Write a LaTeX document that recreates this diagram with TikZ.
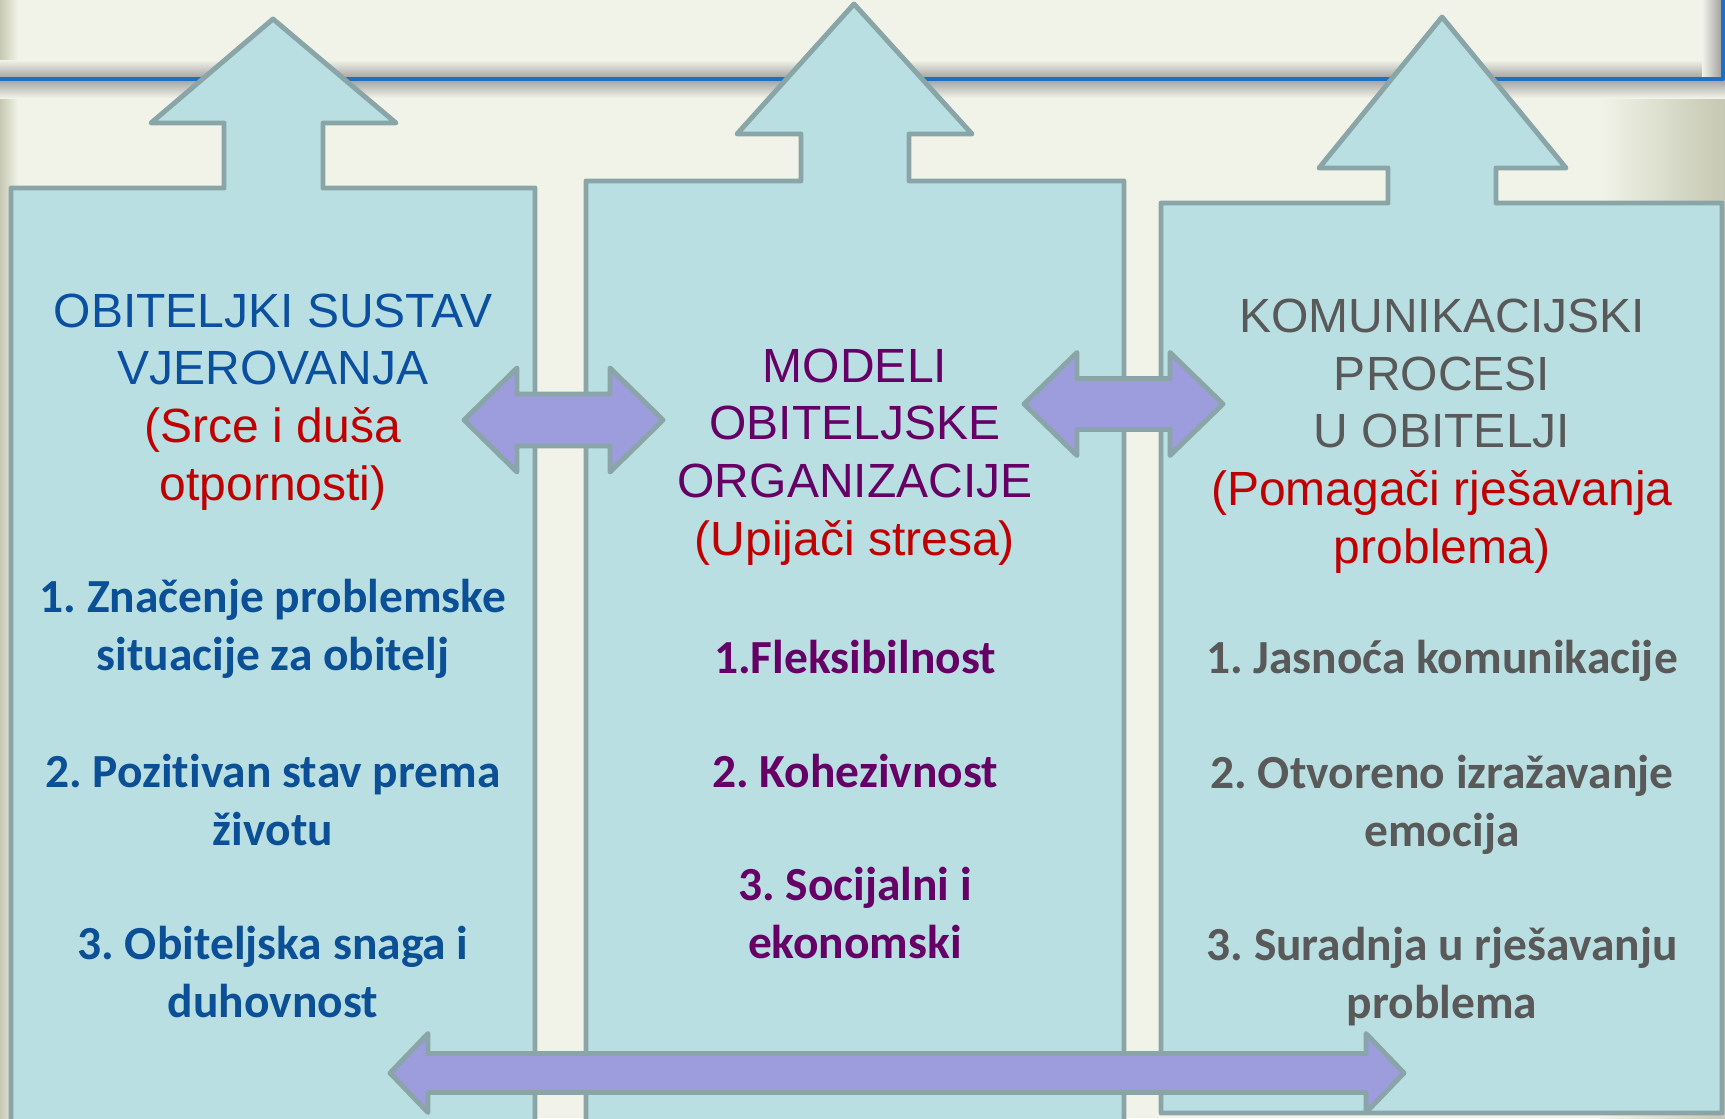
\documentclass[tikz,border=0pt]{standalone}
\usepackage{fontspec}
\setmainfont{Liberation Sans}
\newfontfamily\itemfont[Ligatures=CommonOff]{Carlito}
\usetikzlibrary{positioning}
\frenchspacing
\definecolor{bgcream}{HTML}{F1F3E8}
\definecolor{edgegray}{HTML}{C6C8B3}
\definecolor{colfill}{HTML}{B9DFE2}
\definecolor{colline}{HTML}{89A5A8}
\definecolor{arrfill}{HTML}{9D9CDC}
\definecolor{headblue}{HTML}{0B50A0}
\definecolor{itemblue}{HTML}{0B4F96}
\definecolor{plum}{HTML}{660066}
\definecolor{softred}{HTML}{C00000}
\definecolor{slate}{HTML}{595959}
\definecolor{titleblue}{HTML}{1F70C1}
% double block arrow: left tip, right tip, mid y, shaft half, head half, head length
\newcommand{\dblarrow}[6]{%
  \draw[blockarrow] (#1,#3) -- (#1+#6,#3-#5) -- (#1+#6,#3-#4) -- (#2-#6,#3-#4) -- (#2-#6,#3-#5)
    -- (#2,#3) -- (#2-#6,#3+#5) -- (#2-#6,#3+#4) -- (#1+#6,#3+#4) -- (#1+#6,#3+#5) -- cycle;}

\begin{document}
\begin{tikzpicture}[x=0.01cm, y=-0.01cm, line join=round,
  column/.style={draw=colline, fill=colfill, line width=1.4pt},
  blockarrow/.style={draw=colline, fill=arrfill, line width=1.4pt},
  head/.style={align=center, font=\fontsize{13.65pt}{16.4pt}\selectfont},
  item/.style={align=center, font=\itemfont\bfseries\fontsize{13.5pt}{16.5pt}\selectfont}]
\clip (0,0) rectangle (1725,1118);
\fill[bgcream] (0,0) rectangle (1725,1118);
\shade[left color=edgegray, right color=bgcream] (0,0) rectangle (18,1118);
\shade[left color=bgcream, right color=edgegray] (1600,79) rectangle (1725,1118);
% title band edge
\shade[top color=bgcream, bottom color=gray!75] (0,60) rectangle (1722,79);
\shade[top color=gray!75, bottom color=bgcream] (0,79) rectangle (1725,98);
\shade[left color=bgcream, right color=gray!75] (1702,0) rectangle (1722,79);
\draw[titleblue, line width=0.9pt] (0,79) -- (1723,79) -- (1723,0);
% the three columns with up arrows
\draw[column] (11,1140) -- (11,188) -- (224,188) -- (224,123) -- (151,123) -- (273,19)
  -- (396,123) -- (323,123) -- (323,188) -- (535,188) -- (535,1140);
\draw[column] (586,1140) -- (586,181) -- (801,181) -- (801,134) -- (737,134) -- (854,4)
  -- (972,134) -- (909,134) -- (909,181) -- (1124,181) -- (1124,1140);
\draw[column] (1161,1113) -- (1161,203) -- (1388,203) -- (1388,168) -- (1319,168) -- (1442,17)
  -- (1566,168) -- (1496,168) -- (1496,203) -- (1722,203) -- (1722,1113) -- cycle;
% links between columns
\dblarrow{464}{663}{420}{26}{52}{53}
\dblarrow{1024}{1223}{404}{25.5}{51.5}{53}
\dblarrow{390}{1404}{1073}{19.5}{39.5}{38}
% texts
\node[head, text=headblue] (belief) at (273,402) {OBITELJKI SUSTAV\\VJEROVANJA\\\textcolor{softred}{(Srce i duša}\\\textcolor{softred}{otpornosti)}};
\node[item, text=itemblue] (meaning) at (273,629) {1. Značenje problemske\\situacije za obitelj};
\node[item, text=itemblue] (attitude) at (273,800) {2. Pozitivan stav prema\\životu};
\node[item, text=itemblue] (strength) at (273,972) {3. Obiteljska snaga i\\duhovnost};
\node[head, text=plum] (models) at (855,457) {MODELI\\OBITELJSKE\\ORGANIZACIJE\\\textcolor{softred}{(Upijači stresa)}};
\node[item, text=plum] (flex) at (855,657) {1.Fleksibilnost};
\node[item, text=plum] (cohesion) at (855,771) {2. Kohezivnost};
\node[item, text=plum] (social) at (855,913) {3. Socijalni i\\ekonomski};
\node[head, text=slate] (comm) at (1442,436) {KOMUNIKACIJSKI\\PROCESI\\U OBITELJI\\\textcolor{softred}{(Pomagači rješavanja}\\\textcolor{softred}{problema)}};
\node[item, text=slate] (clarity) at (1442,661) {1. Jasnoća komunikacije};
\node[item, text=slate] (openness) at (1442,805) {2. Otvoreno izražavanje\\emocija};
\node[item, text=slate] (solving) at (1442,977) {3. Suradnja u rješavanju\\problema};
\end{tikzpicture}
\end{document}
